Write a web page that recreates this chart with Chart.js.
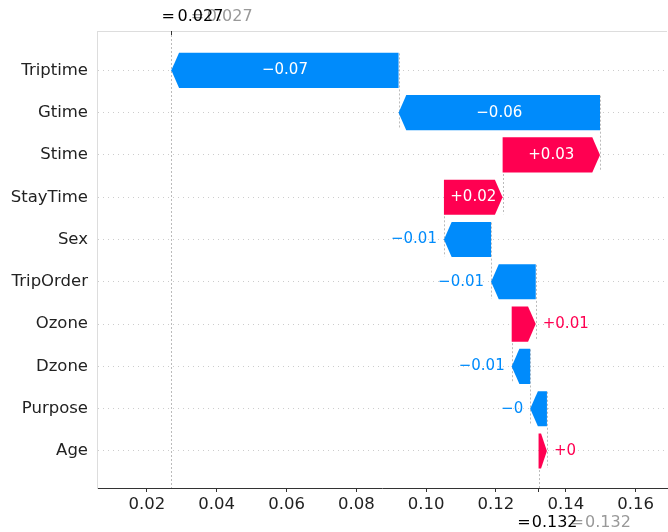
<!DOCTYPE html>
<html>
<head>
<meta charset="utf-8">
<script src="https://cdn.jsdelivr.net/npm/chart.js@4/dist/chart.umd.min.js"></script>
<style>
  html, body { margin: 0; padding: 0; background: #ffffff; }
  #wrap { width: 668px; height: 532px; }
</style>
</head>
<body>
<div id="wrap"><canvas id="chart" width="668" height="532"></canvas></div>
<script>
// Feature contributions, listed top to bottom
const features = ['Triptime', 'Gtime', 'Stime', 'StayTime', 'Sex', 'TripOrder', 'Ozone', 'Dzone', 'Purpose', 'Age'];
const shapValues = [-0.0651, -0.0577, 0.0279, 0.0168, -0.0135, -0.0128, 0.0069, -0.0053, -0.0048, 0.0024];
const baseValue = 0.1322;
const xTicks = [0.02, 0.04, 0.06, 0.08, 0.10, 0.12, 0.14, 0.16];

const FONT = 'DejaVu Sans';
const POS = '#ff0051';
const NEG = '#008bfb';

// Running total, accumulated from the bottom row upward
const segments = new Array(features.length);
let acc = baseValue;
for (let i = features.length - 1; i >= 0; i--) {
  const start = acc;
  acc += shapValues[i];
  segments[i] = [start, acc];
}
const outputValue = acc;

function fmtContribution(v) {
  const mag = Number(Math.abs(v).toFixed(2)).toString();
  return (v >= 0 ? '+' : '\u2212') + mag;
}

function vline(ctx, px, y1, y2) {
  ctx.beginPath();
  ctx.moveTo(px, y1);
  ctx.lineTo(px, y2);
  ctx.stroke();
}

const waterfallPlugin = {
  id: 'waterfall',
  beforeDatasetsDraw(chart) {
    const { ctx, chartArea: a, scales: { x, y } } = chart;
    ctx.save();
    ctx.beginPath();
    ctx.rect(a.left, a.top, a.right - a.left, a.bottom - a.top);
    ctx.clip();
    ctx.strokeStyle = '#bbbbbb';
    ctx.lineWidth = 1;
    ctx.setLineDash([2, 2]);
    // model output line, full height
    vline(ctx, Math.round(x.getPixelForValue(outputValue)) + 0.5, a.top, a.bottom);
    // connectors from each bar's start to the row below
    segments.forEach((seg, i) => {
      const px = Math.round(x.getPixelForValue(seg[0])) + 0.5;
      vline(ctx, px, y.getPixelForValue(i - 0.4), y.getPixelForValue(i + 1.4));
    });
    ctx.restore();
  },
  afterDatasetsDraw(chart) {
    const { ctx } = chart;
    const meta = chart.getDatasetMeta(0);
    ctx.save();
    ctx.font = '15px "' + FONT + '"';
    ctx.textBaseline = 'middle';
    meta.data.forEach((bar, i) => {
      const p = bar.getProps(['x', 'y', 'base', 'height']);
      const left = Math.min(p.x, p.base);
      const right = Math.max(p.x, p.base);
      const w = right - left;
      const top = p.y - p.height / 2;
      const bot = p.y + p.height / 2;
      const positive = shapValues[i] >= 0;
      const head = Math.min(7.7, w * 0.7);
      const color = positive ? POS : NEG;
      ctx.fillStyle = color;
      ctx.beginPath();
      if (positive) {
        ctx.moveTo(left, top);
        ctx.lineTo(right - head, top);
        ctx.lineTo(right, p.y);
        ctx.lineTo(right - head, bot);
        ctx.lineTo(left, bot);
      } else {
        ctx.moveTo(right, top);
        ctx.lineTo(left + head, top);
        ctx.lineTo(left, p.y);
        ctx.lineTo(left + head, bot);
        ctx.lineTo(right, bot);
      }
      ctx.closePath();
      ctx.fill();

      const label = fmtContribution(shapValues[i]);
      const tw = ctx.measureText(label).width;
      if (tw + 6 < w) {
        ctx.fillStyle = '#ffffff';
        ctx.textAlign = 'center';
        ctx.fillText(label, (left + right) / 2, p.y);
      } else if (positive) {
        ctx.fillStyle = color;
        ctx.textAlign = 'left';
        ctx.fillText(label, right + 7, p.y);
      } else {
        ctx.fillStyle = color;
        ctx.textAlign = 'right';
        ctx.fillText(label, left - 7, p.y);
      }
    });
    ctx.restore();
  },
  afterDraw(chart) {
    const { ctx, chartArea: a, scales: { x } } = chart;
    ctx.save();
    // top frame line
    ctx.strokeStyle = '#dddddd';
    ctx.lineWidth = 1;
    ctx.beginPath();
    ctx.moveTo(a.left, a.top + 0.5);
    ctx.lineTo(a.right, a.top + 0.5);
    ctx.stroke();
    const outPx = x.getPixelForValue(outputValue);
    const basePx = x.getPixelForValue(baseValue);
    ctx.strokeStyle = '#333333';
    vline(ctx, Math.round(outPx) + 0.5, a.top, a.top + 4);

    ctx.font = '16px "' + FONT + '"';
    ctx.textAlign = 'left';
    ctx.textBaseline = 'alphabetic';
    const outTxt = outputValue.toFixed(3);
    const baseTxt = baseValue.toFixed(3);
    // output value (top)
    ctx.fillStyle = '#999999';
    ctx.fillText('=', outPx - 9.9 + 29.3, 21);
    ctx.fillText(outTxt, outPx + 6.2 + 29.3, 21);
    ctx.fillStyle = '#000000';
    ctx.fillText('=', outPx - 9.9, 21);
    ctx.fillText(outTxt, outPx + 6.2, 21);
    // base value (bottom)
    ctx.fillStyle = '#999999';
    ctx.fillText('=', basePx - 21.3 + 53.3, 527);
    ctx.fillText(baseTxt, basePx - 6.8 + 53.3, 527);
    ctx.fillStyle = '#000000';
    ctx.fillText('=', basePx - 21.3, 527);
    ctx.fillText(baseTxt, basePx - 6.8, 527);
    ctx.restore();
  }
};

const ctx = document.getElementById('chart').getContext('2d');
new Chart(ctx, {
  type: 'bar',
  data: {
    datasets: [{
      data: features.map((f, i) => ({ x: segments[i], y: i })),
      backgroundColor: 'rgba(0,0,0,0)',
      borderWidth: 0,
      barPercentage: 0.83,
      categoryPercentage: 1
    }]
  },
  options: {
    indexAxis: 'y',
    responsive: false,
    animation: false,
    events: [],
    layout: { padding: { top: 31, right: 1, left: 0, bottom: 0 } },
    plugins: { legend: { display: false }, tooltip: { enabled: false } },
    scales: {
      x: {
        type: 'linear',
        position: 'bottom',
        min: 0.0057,
        max: 0.169,
        afterBuildTicks: (s) => {
          s.ticks = [...xTicks, baseValue].sort((a, b) => a - b).map(v => ({ value: v }));
        },
        afterFit: (s) => { s.height = 44; },
        ticks: {
          autoSkip: false,
          maxRotation: 0,
          padding: 3,
          color: '#222222',
          font: { family: FONT, size: 16.5 },
          callback: (v) => (v === baseValue ? '' : Number(v).toFixed(2))
        },
        grid: { drawOnChartArea: false, drawTicks: true, tickLength: 4, tickColor: '#333333', tickWidth: 1 },
        border: { color: '#333333', width: 1 }
      },
      y: {
        type: 'linear',
        reverse: true,
        offset: false,
        min: -0.93,
        max: 9.875,
        afterBuildTicks: (s) => {
          s.ticks = features.map((f, i) => ({ value: i }));
        },
        afterFit: (s) => { s.width = 97; },
        ticks: {
          autoSkip: false,
          padding: 9,
          color: '#222222',
          font: { family: FONT, size: 16.5 },
          callback: (v) => features[v] ?? ''
        },
        grid: { offset: false, color: '#cccccc', lineWidth: 1, drawTicks: false },
        border: { color: '#dddddd', width: 1, dash: [1, 4] }
      }
    }
  },
  plugins: [waterfallPlugin]
});
</script>
</body>
</html>
